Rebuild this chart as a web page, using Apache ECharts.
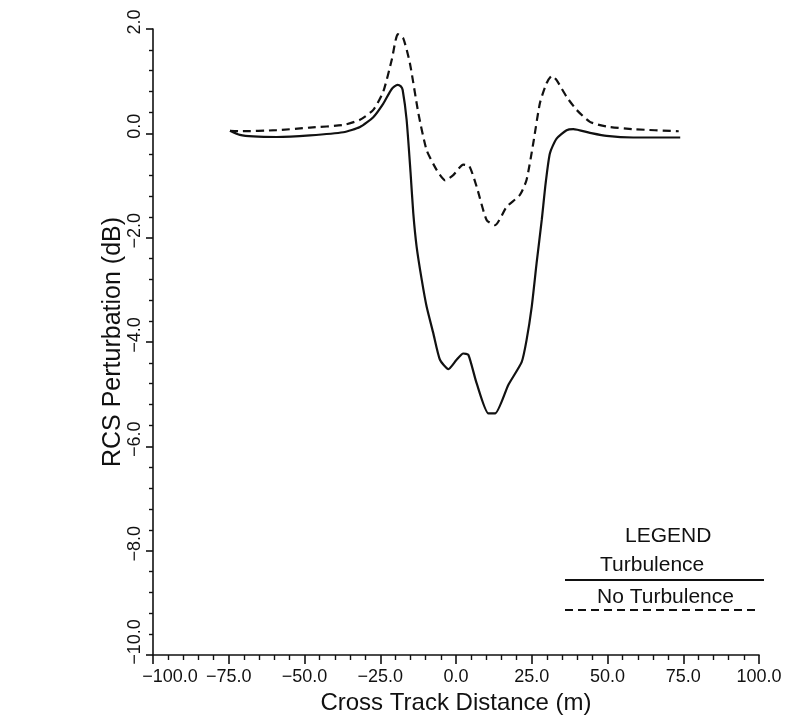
<!DOCTYPE html>
<html>
<head>
<meta charset="utf-8">
<script src="https://cdn.jsdelivr.net/npm/echarts@6/dist/echarts.min.js"></script>
<style>
  html, body { margin: 0; padding: 0; background: #fff; }
  #chart { width: 805px; height: 720px; }
</style>
</head>
<body>
<div id="chart"></div>
<script>
// Cross track distance (m) and RCS perturbation (dB), with turbulence
const turbDistance = [-74.6, -71.3, -66.9, -59.2, -48.2, -37.2, -31.7, -27.3, -24.0, -21.2, -19.3, -18.2, -17.6,
  -16.3, -15.0, -14.1, -13.0, -11.3, -9.7, -7.5, -5.3, -2.5, 0.2, 2.4, 4.1, 6.8, 10.7, 12.9, 17.3, 21.7,
  23.3, 25.0, 26.6, 28.3, 29.6, 31.0, 33.2, 36.5, 38.7, 44.2, 49.7, 58.5, 74.0];
const turbRcs = [0.05, -0.03, -0.06, -0.07, -0.04, 0.02, 0.12, 0.31, 0.57, 0.85, 0.93, 0.90, 0.83,
  0.26, -0.75, -1.53, -2.17, -2.81, -3.32, -3.83, -4.34, -4.52, -4.34, -4.22, -4.25, -4.79, -5.37, -5.37, -4.82, -4.38,
  -3.96, -3.32, -2.49, -1.66, -0.95, -0.38, -0.10, 0.06, 0.08, 0.01, -0.05, -0.08, -0.08];

// Same pass without turbulence
const noTurbDistance = [-74.6, -71.3, -59.2, -48.2, -37.2, -31.7, -27.3, -24.0, -21.2, -19.2, -17.4, -15.2, -12.4,
  -9.7, -6.4, -3.6, -0.9, 2.4, 4.4, 6.8, 10.1, 12.9, 16.7, 21.1, 23.3, 25.5, 27.7, 29.9, 31.6, 33.2,
  36.5, 39.8, 44.2, 49.7, 58.5, 73.5];
const noTurbRcs = [0.05, 0.04, 0.06, 0.11, 0.16, 0.26, 0.45, 0.80, 1.41, 1.90, 1.82, 1.34, 0.38,
  -0.32, -0.70, -0.90, -0.80, -0.60, -0.63, -1.02, -1.66, -1.76, -1.41, -1.18, -0.89, -0.19, 0.58, 0.96, 1.10, 1.02,
  0.70, 0.45, 0.22, 0.13, 0.08, 0.04];

// Axis tick values
const xTicks = [-100, -75, -50, -25, 0, 25, 50, 75, 100];
const yTicks = [-10, -8, -6, -4, -2, 0, 2];

const seriesNames = ['Turbulence', 'No Turbulence'];

const FONT = '"Liberation Sans", Arial, sans-serif';
const INK = '#111';

function pairs(xs, ys) { return xs.map((x, i) => [x, ys[i]]); }
function fmt(v) { return v.toFixed(1).replace('-', '\u2212'); }

const chart = echarts.init(document.getElementById('chart'), null, { renderer: 'canvas' });

chart.setOption({
  backgroundColor: '#fff',
  animation: false,
  grid: { left: 153, right: 46, top: 29, bottom: 65, containLabel: false },
  xAxis: {
    type: 'value',
    min: xTicks[0], max: xTicks[xTicks.length - 1], interval: xTicks[1] - xTicks[0],
    name: 'Cross Track Distance (m)',
    nameLocation: 'middle', nameGap: 31,
    nameTextStyle: { fontFamily: FONT, fontSize: 24, color: INK },
    axisLine: { onZero: false, lineStyle: { color: INK, width: 1.6 } },
    axisTick: { show: true, inside: false, length: 9, lineStyle: { color: INK, width: 1.6 } },
    minorTick: { show: true, splitNumber: 5, length: 5, lineStyle: { color: INK, width: 1.4 } },
    splitLine: { show: false },
    axisLabel: {
      fontFamily: FONT, fontSize: 18, color: INK, margin: 13,
      formatter: v => v === xTicks[0] ? '{first|' + fmt(v) + '}' : fmt(v),
      rich: { first: { fontFamily: FONT, fontSize: 18, color: INK, padding: [0, 0, 0, 34] } }
    }
  },
  yAxis: {
    type: 'value',
    min: yTicks[0], max: yTicks[yTicks.length - 1], interval: yTicks[1] - yTicks[0],
    name: 'RCS Perturbation (dB)',
    nameLocation: 'middle', nameGap: 27, nameRotate: 90, nameMoveOverlap: false,
    nameTextStyle: { fontFamily: FONT, fontSize: 25, color: INK },
    axisLine: { show: true, onZero: false, lineStyle: { color: INK, width: 1.6 } },
    axisTick: { show: true, inside: false, length: 7, lineStyle: { color: INK, width: 1.6 } },
    minorTick: { show: true, splitNumber: 5, length: 4, lineStyle: { color: INK, width: 1.4 } },
    splitLine: { show: false },
    axisLabel: {
      fontFamily: FONT, fontSize: 18, color: INK, margin: 9, rotate: 90,
      formatter: v => (v === yTicks[0] ? '{low|' : '{up|') + fmt(v) + '}',
      rich: {
        up: { fontFamily: FONT, fontSize: 18, color: INK, padding: [0, 0, 0, 14] },
        low: { fontFamily: FONT, fontSize: 18, color: INK, padding: [0, 0, 0, 26] }
      }
    }
  },
  series: [
    {
      name: seriesNames[0], type: 'line', data: pairs(turbDistance, turbRcs),
      showSymbol: false, symbol: 'none', smooth: 0.2,
      lineStyle: { color: INK, width: 2.2, type: 'solid' }
    },
    {
      name: seriesNames[1], type: 'line', data: pairs(noTurbDistance, noTurbRcs),
      showSymbol: false, symbol: 'none', smooth: 0.2,
      lineStyle: { color: INK, width: 2.2, type: [8, 5] }
    }
  ],
  graphic: [
    { type: 'text', left: 625, top: 526, style: { text: 'LEGEND', font: '21px ' + FONT, fill: INK } },
    { type: 'text', left: 600, top: 555, style: { text: seriesNames[0], font: '21px ' + FONT, fill: INK } },
    { type: 'line', shape: { x1: 565, y1: 580, x2: 764, y2: 580 }, style: { stroke: INK, lineWidth: 2 } },
    { type: 'text', left: 597, top: 587, style: { text: seriesNames[1], font: '21px ' + FONT, fill: INK } },
    { type: 'line', shape: { x1: 565, y1: 610, x2: 760, y2: 610 }, style: { stroke: INK, lineWidth: 2, lineDash: [8, 5] } }
  ]
});
</script>
</body>
</html>
